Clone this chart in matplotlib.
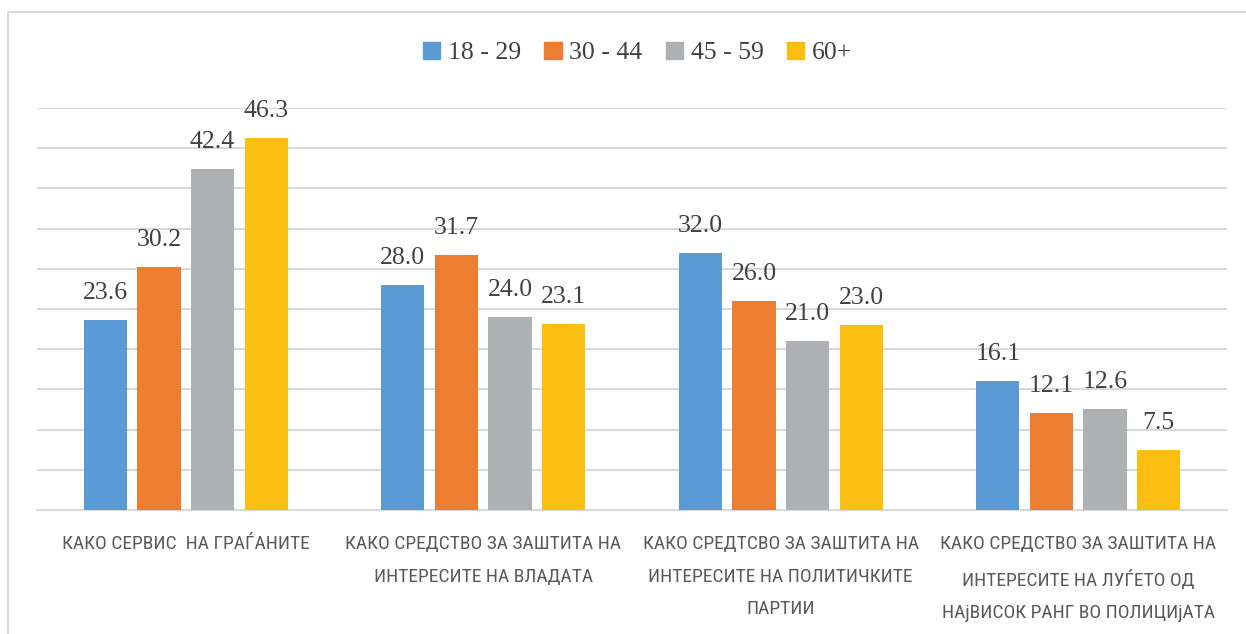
import matplotlib
matplotlib.use('Agg')
import matplotlib.pyplot as plt
from matplotlib import font_manager
from matplotlib.font_manager import FontProperties
from matplotlib.patches import Patch, Rectangle
import numpy as np

# data
categories = ['КАКО СЕРВИС  НА ГРАЃАНИТЕ',
              'КАКО СРЕДСТВО ЗА ЗАШТИТА НА\nИНТЕРЕСИТЕ НА ВЛАДАТА',
              'КАКО СРЕДТСВО ЗА ЗАШТИТА НА\nИНТЕРЕСИТЕ НА ПОЛИТИЧКИТЕ\nПАРТИИ',
              'КАКО СРЕДСТВО ЗА ЗАШТИТА НА\nИНТЕРЕСИТЕ НА ЛУЃЕТО ОД\nНАјВИСОК РАНГ ВО ПОЛИЦИјАТА']
groups = ['18 - 29', '30 - 44', '45 - 59', '60+']
v_18_29 = [23.6, 28.0, 32.0, 16.1]
v_30_44 = [30.2, 31.7, 26.0, 12.1]
v_45_59 = [42.4, 24.0, 21.0, 12.6]
v_60 = [46.3, 23.1, 23.0, 7.5]
colors = ['#5B9BD5', '#ED7D31', '#AFB0B4', '#FBBF12']

# look for a condensed / narrow sans for the category labels
def pick_condensed():
    fl = font_manager.fontManager.ttflist
    prefs = ['robotocondensed', 'liberationsansnarrow', 'opensanscondensed',
             'notosanscondensed', 'dejavusanscondensed']
    found = []
    for f in fl:
        fn = f.fname.lower().replace('-', '').replace('_', '').replace(' ', '')
        base = fn.rsplit('/', 1)[-1]
        if any(w in base for w in ['bold', 'italic', 'light', 'thin', 'black',
                                   'medium', 'semi', 'extra', 'oblique']):
            continue
        for i, p in enumerate(prefs):
            if p in base:
                found.append((i, f.fname))
    if found:
        found.sort()
        return FontProperties(fname=found[0][1])
    return FontProperties(family='DejaVu Sans', stretch='condensed')

cat_fp = pick_condensed()
cat_fp.set_size(14)
num_font = 'Liberation Serif'

fig = plt.figure(figsize=(12.46, 6.34), dpi=100)
ax = fig.add_axes([37/1246, 124/634, 1190/1246, 402/634])

x = np.arange(len(categories))
width = 0.145
step = 0.18
series = [v_18_29, v_30_44, v_45_59, v_60]
for i, vals in enumerate(series):
    pos = x + (i - 1.5) * step
    bars = ax.bar(pos, vals, width, color=colors[i], zorder=3)
    for b, v in zip(bars, vals):
        ax.annotate('%.1f' % v, (b.get_x() + b.get_width() / 2, b.get_height()),
                    xytext=(0, 15), textcoords='offset points',
                    ha='center', va='baseline', fontsize=18.5,
                    family=num_font, color='#404040')

ax.set_xlim(-0.5, 3.5)
ax.set_ylim(0, 50)
ax.set_yticks(np.arange(5, 51, 5))
ax.yaxis.grid(True, color='#D9D9D9', lw=1.5)
ax.tick_params(axis='y', length=0, labelleft=False)
ax.set_xticks(x)
ax.set_xticklabels(categories, fontproperties=cat_fp, color='#595959',
                   linespacing=2.05, va='top')
ax.tick_params(axis='x', length=0, pad=18)
for s in ['top', 'right', 'left']:
    ax.spines[s].set_visible(False)
ax.spines['bottom'].set_color('#D9D9D9')
ax.spines['bottom'].set_linewidth(1.5)

handles = [Patch(color=c) for c in colors]
fig.legend(handles, groups, loc='center', bbox_to_anchor=(637.5/1246, 1 - 53/634),
           ncol=4, frameon=False, prop={'family': num_font, 'size': 18.5},
           handlelength=0.68, handleheight=0.68, handletextpad=0.3,
           columnspacing=0.9, labelcolor='#404040')

frame = Rectangle((8/1246, -0.1), 2, 1.1 - 12/634, transform=fig.transFigure,
                  fill=False, edgecolor='#D9D9D9', lw=1.5, clip_on=False)
fig.add_artist(frame)

fig.savefig('out.png', dpi=100)
